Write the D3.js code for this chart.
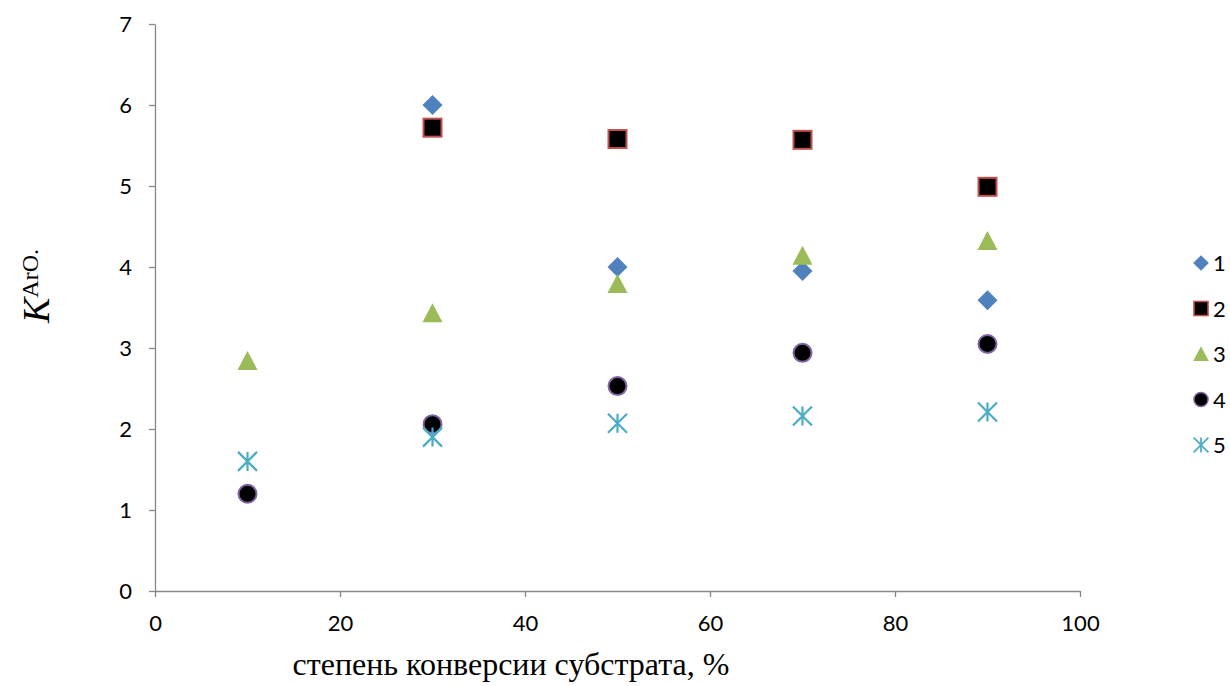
<!DOCTYPE html>
<html>
<head>
<meta charset="utf-8">
<script src="https://cdn.jsdelivr.net/npm/d3@7"></script>
<style>
  html, body { margin: 0; padding: 0; background: #fff; }
  svg { display: block; }
</style>
</head>
<body>
<svg id="chart" width="1230" height="686"></svg>
<script>
// Conversion degree of substrate, %
const xValues = [10, 30, 50, 70, 90];

// K values per series (null = no point)
const series1 = [null, 6.0, 4.0, 3.95, 3.59];
const series2 = [null, 5.72, 5.58, 5.57, 4.99];
const series3 = [2.84, 3.43, 3.79, 4.14, 4.32];
const series4 = [1.2, 2.06, 2.53, 2.94, 3.05];
const series5 = [1.6, 1.9, 2.07, 2.16, 2.21];

const seriesNames = ["1", "2", "3", "4", "5"];
const xTicks = [0, 20, 40, 60, 80, 100];
const yTicks = [0, 1, 2, 3, 4, 5, 6, 7];

const svg = d3.select("#chart");
const axisColor = "#868686";
const tickFont = "Lato, 'Open Sans', sans-serif";

const x = d3.scaleLinear().domain([0, 100]).range([155, 1080]);
const y = d3.scaleLinear().domain([0, 7]).range([591, 24]);

// Axes
const xAxis = svg.append("g").attr("transform", `translate(0,${y(0)})`)
  .call(d3.axisBottom(x).tickValues(xTicks).tickFormat(d3.format("d"))
    .tickSize(6).tickPadding(18).tickSizeOuter(0));
const yAxis = svg.append("g").attr("transform", `translate(${x(0)},0)`)
  .call(d3.axisLeft(y).tickValues(yTicks).tickFormat(d3.format("d"))
    .tickSize(6).tickPadding(17).tickSizeOuter(0));

[xAxis, yAxis].forEach(g => {
  g.select(".domain").attr("stroke", axisColor).attr("stroke-width", 1.3);
  g.selectAll(".tick line").attr("stroke", axisColor).attr("stroke-width", 1.3);
  g.selectAll(".tick text").attr("fill", "#000").style("font-family", tickFont).style("font-size", "22px");
});

// Marker drawing helpers
const markers = [
  { data: series1, draw: (g) => g.append("path").attr("d", "M0,-10 L10,0 L0,10 L-10,0 Z").attr("fill", "#4F81BD") },
  { data: series2, draw: (g) => g.append("rect").attr("x", -9).attr("y", -9).attr("width", 18).attr("height", 18).attr("fill", "#000").attr("stroke", "#C0504D").attr("stroke-width", 2) },
  { data: series3, draw: (g) => g.append("path").attr("d", "M0,-10 L10,9 L-10,9 Z").attr("fill", "#9BBB59") },
  { data: series4, draw: (g) => g.append("circle").attr("r", 9).attr("fill", "#000").attr("stroke", "#8064A2").attr("stroke-width", 2) },
  { data: series5, draw: (g) => g.append("path").attr("d", "M0,-9.5 L0,9.5 M-9.5,-9.5 L9.5,9.5 M-9.5,9.5 L9.5,-9.5").attr("stroke", "#4BACC6").attr("stroke-width", 2.2).attr("fill", "none") }
];

markers.forEach((m, i) => {
  const pts = xValues.map((xv, j) => ({ x: xv, v: m.data[j] })).filter(d => d.v !== null);
  const grp = svg.append("g").attr("class", "series-" + seriesNames[i]);
  pts.forEach(d => {
    const g = grp.append("g").attr("transform", `translate(${x(d.x)},${y(d.v)})`);
    m.draw(g);
  });
});

// Legend
const legend = svg.append("g").attr("class", "legend");
seriesNames.forEach((name, i) => {
  const ly = 263 + i * 45.5;
  const g = legend.append("g").attr("transform", `translate(1201,${ly}) scale(0.78)`);
  markers[i].draw(g);
  legend.append("text").attr("x", 1213).attr("y", ly + 8)
    .style("font-family", tickFont).style("font-size", "22px").text(name);
});

// X axis title
svg.append("text")
  .attr("x", 511).attr("y", 675)
  .attr("text-anchor", "middle")
  .style("font-family", "'Liberation Serif', 'Times New Roman', serif")
  .style("font-size", "32px")
  .text("степень конверсии субстрата, %");

// Y axis title: K with raised "ArO."
const yTitle = svg.append("text")
  .attr("transform", "translate(49,286) rotate(-90)")
  .attr("text-anchor", "middle")
  .style("font-family", "'Liberation Serif', 'Times New Roman', serif");
yTitle.append("tspan").style("font-style", "italic").style("font-size", "38px").text("K");
yTitle.append("tspan").attr("dy", -11).style("font-size", "24px").text("ArO.");
</script>
</body>
</html>
